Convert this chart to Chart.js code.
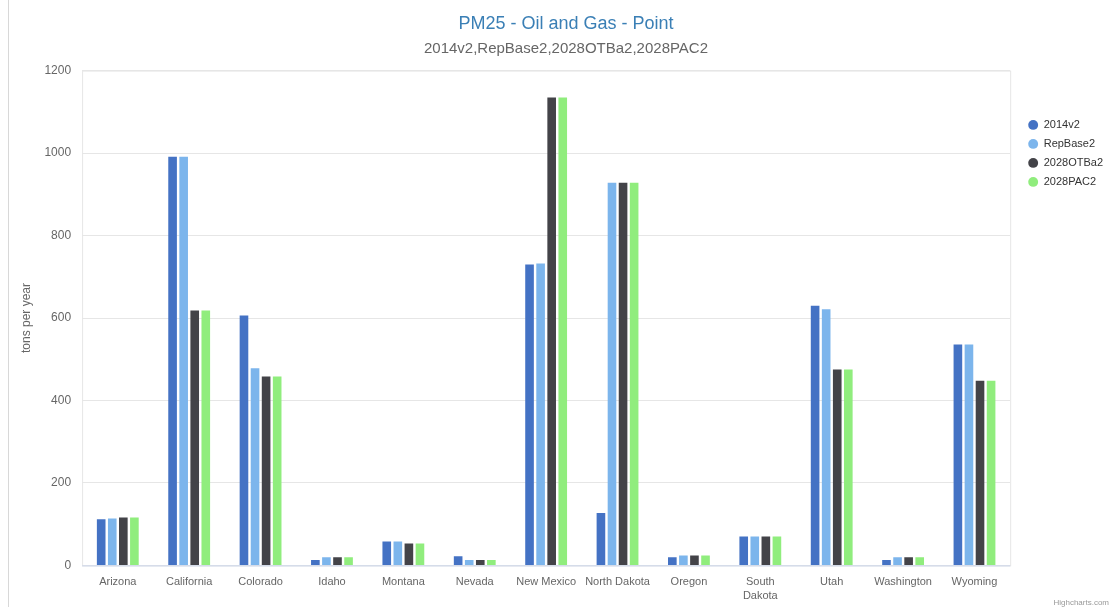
<!DOCTYPE html>
<html>
<head>
<meta charset="utf-8">
<script src="https://cdn.jsdelivr.net/npm/chart.js@4"></script>
<style>
  body { margin: 0; background: #fff; }
  #wrap { position: relative; width: 1113px; height: 607px; }
  #edge { position: absolute; left: 8px; top: 0; height: 607px; border-left: 1px solid #d8d8d8; }
  #credit { position: absolute; right: 4px; bottom: 0px; font: 8px Arial, "Liberation Sans", sans-serif; color: #999; }
</style>
</head>
<body>
<div id="wrap">
  <canvas id="grafico" width="1113" height="607"></canvas>
  <div id="edge"></div>
  <div id="credit">Highcharts.com</div>
</div>
<script>
// estados (categorias)
const estados = ['Arizona', 'California', 'Colorado', 'Idaho', 'Montana', 'Nevada', 'New Mexico',
  'North Dakota', 'Oregon', ['South', 'Dakota'], 'Utah', 'Washington', 'Wyoming'];

// valores (tons per year)
const v2014v2 = [112, 991, 606, 13, 58, 22, 730, 127, 20, 70, 630, 13, 536];
const repBase2 = [114, 991, 478, 20, 58, 13, 732, 928, 24, 70, 621, 20, 536];
const otba2028 = [116, 618, 458, 20, 53, 13, 1135, 928, 24, 70, 475, 20, 448];
const pac2028 = [116, 618, 458, 20, 53, 13, 1135, 928, 24, 70, 475, 20, 448];

const yTicks = [0, 200, 400, 600, 800, 1000, 1200];

const fuente = 'Arial, "Liberation Sans", sans-serif';

const bordePlot = {
  id: 'bordePlot',
  beforeDatasetsDraw(chart) {
    const a = chart.chartArea;
    const ctx = chart.ctx;
    ctx.save();
    ctx.strokeStyle = '#e6e6e6';
    ctx.lineWidth = 1;
    ctx.strokeRect(a.left + 0.5, a.top + 0.5, a.right - a.left, a.bottom - a.top);
    ctx.strokeStyle = '#ccd6eb';
    ctx.beginPath();
    ctx.moveTo(a.left, a.bottom + 0.5);
    ctx.lineTo(a.right, a.bottom + 0.5);
    ctx.stroke();
    ctx.restore();
  }
};

const grafx = document.getElementById('grafico').getContext('2d');
const grafico = new Chart(grafx, {
  type: 'bar',
  data: {
    labels: estados,
    datasets: [
      { label: '2014v2', data: v2014v2, backgroundColor: '#4472c4' },
      { label: 'RepBase2', data: repBase2, backgroundColor: '#7cb5ec' },
      { label: '2028OTBa2', data: otba2028, backgroundColor: '#434348' },
      { label: '2028PAC2', data: pac2028, backgroundColor: '#90ed7d' }
    ]
  },
  options: {
    responsive: false,
    animation: false,
    datasets: { bar: { categoryPercentage: 0.62, barPercentage: 0.78 } },
    layout: { padding: { top: 0, right: 0, left: 19, bottom: 3 } },
    plugins: {
      title: {
        display: true,
        text: 'PM25 - Oil and Gas - Point',
        color: '#3a7fb5',
        font: { family: fuente, size: 18, weight: 'normal' },
        padding: { top: 13, bottom: 5 }
      },
      subtitle: {
        display: true,
        text: '2014v2,RepBase2,2028OTBa2,2028PAC2',
        color: '#666666',
        font: { family: fuente, size: 15 },
        padding: { top: 0, bottom: 13 }
      },
      legend: {
        position: 'right',
        align: 'start',
        title: { display: true, text: ' ', padding: { top: 97, bottom: 0 } },
        labels: {
          usePointStyle: true,
          pointStyle: 'circle',
          boxWidth: 10,
          boxHeight: 7,
          padding: 8,
          color: '#333333',
          font: { family: fuente, size: 11 }
        }
      },
      tooltip: { enabled: false }
    },
    scales: {
      x: {
        grid: { display: false },
        border: { display: false },
        ticks: { color: '#666666', font: { family: fuente, size: 11, lineHeight: 1.3 }, maxRotation: 0, autoSkip: false, padding: 1 }
      },
      y: {
        min: 0,
        max: 1200,
        afterBuildTicks: (axis) => { axis.ticks = yTicks.map(v => ({ value: v })); },
        grid: { color: '#e6e6e6', drawTicks: false },
        border: { display: false },
        ticks: { color: '#666666', font: { family: fuente, size: 12 }, padding: 11, callback: (v) => String(v) },
        title: { display: true, text: 'tons per year', color: '#666666', font: { family: fuente, size: 12 }, padding: { top: 0, bottom: 0 } }
      },
      hueco: {
        type: 'linear',
        position: 'right',
        display: true,
        grid: { display: false },
        border: { display: false },
        ticks: { display: false },
        afterFit: (axis) => { axis.width = 10; }
      }
    }
  },
  plugins: [bordePlot]
});
</script>
</body>
</html>
